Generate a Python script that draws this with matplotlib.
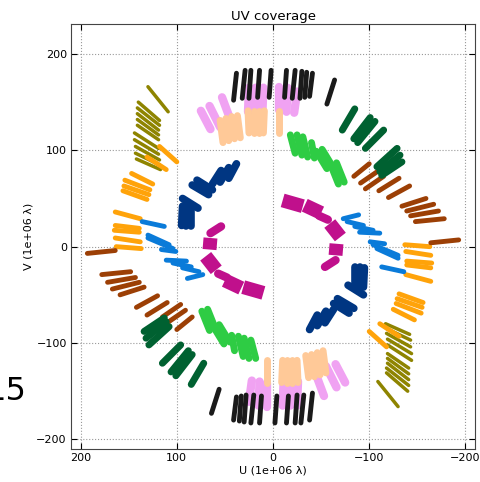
import matplotlib
matplotlib.use("Agg")
import matplotlib.pyplot as plt

# one track per (u0, v0, u1, v1) in 1e6 lambda; the conjugate half (-u, -v) is drawn too
black_tracks = [(41, 152, 38, 180), (32, 154, 29, 183), (25, 154, 23, 183), (16, 155, 14, 183),
                (4, 155, 2, 183), (-12, 155, -14, 183), (-20, 154, -23, 183), (-28, 154, -30, 182),
                (-33, 155, -35, 181), (-38, 156, -41, 180), (-56, 148, -64, 173)]
violet_tracks = [(75, 141, 65, 122), (66, 146, 55, 124), (53, 155, 44, 131),
                 (26, 140, 25, 165), (19, 140, 18, 165), (11, 140, 10, 165),
                 (-6, 142, -6, 166), (-14, 140, -15, 165), (-22, 139, -25, 161)]
peach_tracks = [(52, 108, 55, 131), (46, 110, 49, 133), (40, 112, 43, 135), (34, 113, 37, 136),
                (25, 118, 26, 141), (20, 118, 20, 141), (15, 118, 15, 141), (10, 118, 9, 141),
                (-6, 118, -6, 141)]
olive_tracks = [(130, 166, 109, 140),
                (140, 150, 118, 131), (141, 144, 118, 126), (141, 138, 119, 121), (141, 132, 119, 116),
                (141, 126, 119, 111),
                (144, 118, 119, 102), (144, 111, 119, 96), (143, 104, 118, 90), (143, 97, 118, 85),
                (142, 91, 117, 80)]
orange_tracks = [(118, 104, 100, 88), (131, 93, 111, 80), (147, 76, 125, 65),
                 (154, 69, 128, 59), (155, 63, 129, 54), (156, 58, 131, 49),
                 (164, 36, 138, 29), (164, 22, 139, 19), (165, 17, 139, 15),
                 (164, 9, 138, 5), (163, 0, 137, -2)]
brown_tracks = [(-84, 73, -100, 86), (-91, 66, -110, 79), (-96, 60, -115, 73), (-110, 58, -131, 71),
                (-120, 51, -142, 63), (-134, 42, -159, 50), (-139, 37, -167, 44), (-143, 32, -172, 37),
                (-148, 26, -178, 29), (-164, 4, -193, 7)]
dkgreen_tracks = [(-72, 121, -85, 143), (-84, 112, -101, 134), (-88, 108, -106, 130),
                  (-96, 102, -115, 121), (-108, 83, -129, 102), (-111, 78, -132, 95),
                  (-113, 74, -134, 88)]
green_tracks = [(-18, 116, -23, 97), (-25, 116, -30, 95), (-31, 114, -36, 93), (-40, 108, -43, 92),
                (-45, 99, -56, 81), (-51, 101, -62, 83), (-60, 85, -68, 65), (-66, 87, -74, 67)]
navy_tracks = [(38, 86, 46, 71), (46, 82, 55, 67), (54, 79, 63, 65),
               (67, 54, 84, 64), (63, 59, 79, 69),
               (85, 21, 85, 41), (90, 21, 90, 42), (95, 22, 94, 42), (78, 40, 94, 50)]
blue_tracks = [(-73, 29, -89, 33), (-77, 26, -94, 22), (-85, 21, -104, 17), (-90, 15, -111, 14),
               (-101, 5, -116, 3), (-104, 2, -130, -9), (-108, -2, -130, -12),
               (-113, -21, -136, -26)]
magenta_tracks = [(-10, 48, -31, 42), (-33, 43, -50, 35), (-59, 24, -70, 10), (-66, 3, -65, -9)]
magenta_thin_tracks = [(-48, 32, -57, 28), (-65, -14, -54, -21)]

groups = [
    (violet_tracks, '#f0a2f2', 6.0, 'round'),
    (peach_tracks, '#ffc998', 5.0, 'round'),
    (black_tracks, '#1a1a1a', 3.5, 'round'),
    (olive_tracks, '#8e8400', 2.5, 'round'),
    (orange_tracks, '#ffa30a', 3.5, 'round'),
    (brown_tracks, '#9c3f05', 3.5, 'round'),
    (dkgreen_tracks, '#006131', 5.0, 'round'),
    (green_tracks, '#2ecc44', 5.0, 'round'),
    (navy_tracks, '#003682', 5.5, 'round'),
    (blue_tracks, '#0a7bd9', 3.5, 'round'),
    (magenta_tracks, '#c0108c', 10.0, 'butt'),
    (magenta_thin_tracks, '#c0108c', 6.0, 'round'),
]

fig = plt.figure(figsize=(4.81, 4.82), dpi=100)
ax = fig.add_axes([0.1476, 0.0685, 0.84, 0.8815])

for tracks, color, lw, cap in groups:
    for u0, v0, u1, v1 in tracks:
        ax.plot([u0, u1], [v0, v1], color=color, lw=lw, solid_capstyle=cap)
        ax.plot([-u0, -u1], [-v0, -v1], color=color, lw=lw, solid_capstyle=cap)

ax.set_xlim(210, -210)
ax.set_ylim(-210, 231)
ax.set_xticks([200, 100, 0, -100, -200])
ax.set_yticks([200, 100, 0, -100, -200])
ax.tick_params(direction='in', top=True, right=True, labelsize=8, length=4, pad=3)
ax.grid(True, linestyle=':', color='#999999', linewidth=0.8)
for s in ax.spines.values():
    s.set_color('#444444')
ax.set_title('UV coverage', fontsize=9.5, pad=3)
ax.set_xlabel('U (1e+06 λ)', fontsize=8, labelpad=2)
ax.set_ylabel('V (1e+06 λ)', fontsize=8, labelpad=2)

# slide number bleeding in from the left edge, cut off as in the source
fig.text(-0.03, 0.17, '15', fontsize=23)

fig.savefig('out.png', dpi=100)
